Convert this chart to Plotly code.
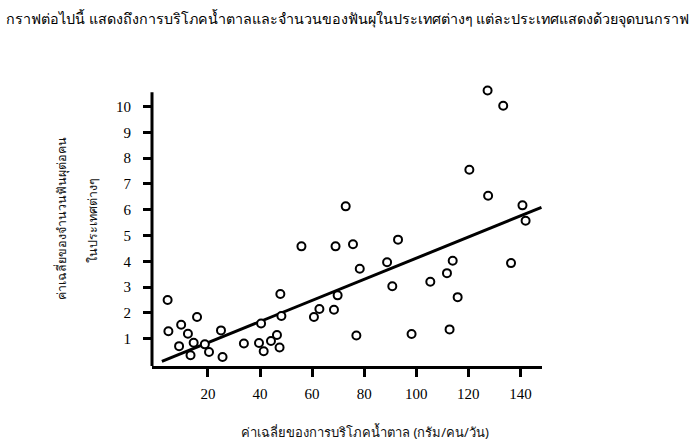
import plotly.graph_objects as go

# Average sugar consumption (g/person/day) and average decayed teeth per person
sugar = [4.5, 47.8, 9.7, 15.8, 4.8, 12.3, 25.0, 40.4, 48.2, 46.5,
         8.9, 14.5, 18.8, 13.3, 20.4, 25.6, 33.8, 39.6, 44.2, 41.4,
         47.5, 72.9, 55.9, 69.0, 75.7, 93.0, 78.3, 88.8, 90.8, 69.8,
         62.8, 60.7, 68.4, 77.0, 98.2, 127.4, 133.4, 120.4, 127.6, 140.8,
         142.0, 114.0, 136.4, 111.8, 105.4, 115.9, 112.8]
teeth = [2.50, 2.73, 1.54, 1.84, 1.29, 1.19, 1.32, 1.59, 1.88, 1.14,
         0.71, 0.84, 0.78, 0.36, 0.48, 0.29, 0.81, 0.83, 0.91, 0.51,
         0.66, 6.13, 4.58, 4.58, 4.66, 4.84, 3.71, 3.96, 3.03, 2.68,
         2.15, 1.84, 2.12, 1.12, 1.18, 10.62, 10.03, 7.55, 6.54, 6.17,
         5.57, 4.02, 3.93, 3.54, 3.21, 2.61, 1.36]

trend_x = [2.3, 148.1]
trend_y = [0.12, 6.09]

x_ticks = [20, 40, 60, 80, 100, 120, 140]
y_ticks = [1, 2, 3, 4, 5, 6, 7, 8, 9, 10]

x_range = [-1.5, 148.3]
y_range = [-0.06, 10.72]
y_line_top = 10.56

title_text = "กราฟต่อไปนี้ แสดงถึงการบริโภคน้ำตาลและจำนวนของฟันผุในประเทศต่างๆ แต่ละประเทศแสดงด้วยจุดบนกราฟ"
x_title = "ค่าเฉลี่ยของการบริโภคน้ำตาล (กรัม/คน/วัน)"
y_title_1 = "ค่าเฉลี่ยของจำนวนฟันผุต่อคน"
y_title_2 = "ในประเทศต่างๆ"

L, R, T, B = 152, 152, 88, 82
W, H = 694, 448
PW, PH = W - L - R, H - T - B

fig = go.Figure()
fig.add_trace(go.Scatter(x=trend_x, y=trend_y, mode="lines",
                         line=dict(color="black", width=3),
                         hoverinfo="skip", showlegend=False))
fig.add_trace(go.Scatter(x=sugar, y=teeth, mode="markers",
                         marker=dict(symbol="circle", size=8, color="white",
                                     line=dict(color="black", width=2)),
                         cliponaxis=False, showlegend=False))

tick_font = dict(family="Liberation Serif, Times New Roman, serif", size=15, color="black")
thai_font = "Tahoma, Noto Sans, sans-serif"

fig.update_layout(
    width=W, height=H,
    margin=dict(l=L, r=R, t=T, b=B),
    paper_bgcolor="white", plot_bgcolor="white",
    xaxis=dict(range=x_range, tickvals=x_ticks, showgrid=False, zeroline=False,
               showline=True, linecolor="black", linewidth=3,
               ticks="outside", ticklen=8, tickwidth=3, tickcolor="black",
               tickfont=tick_font, ticklabelstandoff=4),
    yaxis=dict(range=y_range, tickvals=y_ticks, showgrid=False, zeroline=False,
               showline=False,
               ticks="outside", ticklen=8, tickwidth=3, tickcolor="black",
               tickfont=tick_font, ticklabelstandoff=9),
    shapes=[dict(type="line", xref="paper", yref="y", x0=0, x1=0,
                 y0=y_range[0], y1=y_line_top, line=dict(color="black", width=3))],
    annotations=[
        dict(text=title_text, xref="paper", yref="paper", x=-(L - 4) / PW, y=1 + (T - 18) / PH,
             xanchor="left", yanchor="middle", showarrow=False,
             font=dict(family=thai_font, size=14.3, color="black")),
        dict(text=x_title, xref="paper", yref="paper", x=(365 - L) / PW, y=-(432 - (H - B)) / PH,
             xanchor="center", yanchor="middle", showarrow=False,
             font=dict(family=thai_font, size=13, color="#111")),
        dict(text=y_title_1, xref="paper", yref="paper", x=-(L - 61) / PW, y=((H - B) - 219) / PH,
             xanchor="center", yanchor="middle", textangle=-90, showarrow=False,
             font=dict(family=thai_font, size=12.5, color="#111")),
        dict(text=y_title_2, xref="paper", yref="paper", x=-(L - 92) / PW, y=((H - B) - 221) / PH,
             xanchor="center", yanchor="middle", textangle=-90, showarrow=False,
             font=dict(family=thai_font, size=12.5, color="#111")),
    ],
)

fig.write_html("out.html", config={"displayModeBar": False},
               post_script="document.body.style.margin='0';")
